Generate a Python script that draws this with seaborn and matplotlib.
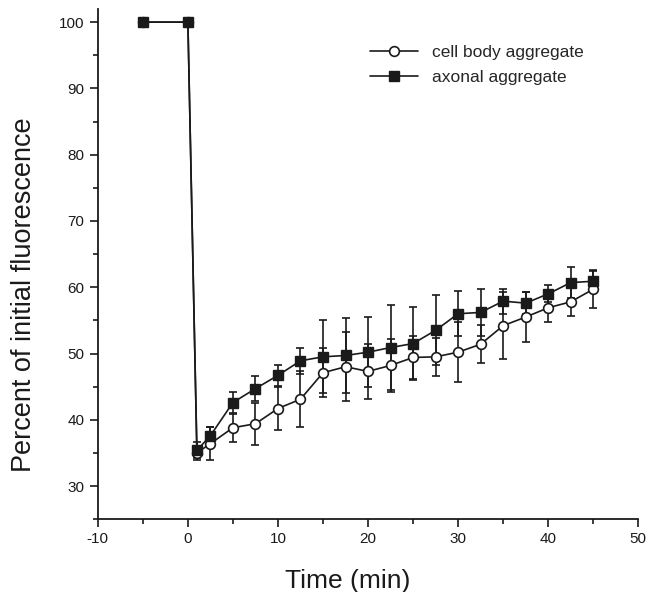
import matplotlib
matplotlib.use("Agg")
import matplotlib.pyplot as plt
from matplotlib.ticker import MultipleLocator
import numpy as np
import pandas as pd
import seaborn as sns

# Time points (min)
time_min = [-5, 0, 1, 2.5, 5, 7.5, 10, 12.5, 15, 17.5, 20, 22.5, 25,
            27.5, 30, 32.5, 35, 37.5, 40, 42.5, 45]

# Percent of initial fluorescence, mean and error
cell_body = [100, 100, 35.0, 36.4, 38.8, 39.4, 41.7, 43.1, 47.1, 48.0, 47.3,
             48.2, 49.4, 49.5, 50.2, 51.4, 54.2, 55.5, 56.9, 57.8, 59.7]
cell_body_err = [0, 0, 1.0, 2.5, 2.1, 3.2, 3.2, 4.2, 3.7, 5.2, 4.1,
                 4.0, 3.3, 2.9, 4.5, 2.9, 5.1, 3.8, 2.1, 2.2, 2.9]

axonal = [100, 100, 35.4, 37.6, 42.6, 44.7, 46.7, 48.9, 49.5, 49.7, 50.2,
          50.9, 51.5, 53.5, 56.0, 56.2, 57.9, 57.6, 59.0, 60.7, 60.9]
axonal_err = [0, 0, 1.2, 1.3, 1.6, 1.9, 1.6, 2.0, 5.5, 5.6, 5.3,
              6.4, 5.5, 5.3, 3.4, 3.5, 1.9, 1.7, 1.3, 2.3, 1.6]

labels = ["cell body aggregate", "axonal aggregate"]
x_ticks = [-10, 0, 10, 20, 30, 40, 50]
y_ticks = [30, 40, 50, 60, 70, 80, 90, 100]

sns.set_style("ticks")
plt.rcParams["font.family"] = ["Liberation Sans", "DejaVu Sans"]
plt.rcParams["axes.unicode_minus"] = False

fig = plt.figure(figsize=(6.52, 5.92), dpi=100)
ax = fig.add_axes([0.150, 0.123, 0.829, 0.862])

df = pd.DataFrame({"time": time_min, "cell": cell_body, "axon": axonal})

# Error bars behind the markers
ax.errorbar(time_min, cell_body, yerr=cell_body_err, fmt="none",
            ecolor="#1a1a1a", elinewidth=1.2, capsize=3.2, capthick=1.2, zorder=1)
ax.errorbar(time_min, axonal, yerr=axonal_err, fmt="none",
            ecolor="#1a1a1a", elinewidth=1.2, capsize=3.2, capthick=1.2, zorder=1)

sns.lineplot(data=df, x="time", y="cell", ax=ax, color="#1a1a1a", lw=1.2,
             marker="o", markersize=7, markerfacecolor="white",
             markeredgecolor="#1a1a1a", markeredgewidth=1.2,
             label=labels[0], zorder=3)
sns.lineplot(data=df, x="time", y="axon", ax=ax, color="#1a1a1a", lw=1.2,
             marker="s", markersize=6.5, markerfacecolor="#1a1a1a",
             markeredgecolor="#1a1a1a", markeredgewidth=1.0,
             label=labels[1], zorder=4)

ax.set_xlim(-10, 50)
ax.set_ylim(25, 102)
ax.set_xticks(x_ticks)
ax.set_yticks(y_ticks)
ax.xaxis.set_minor_locator(MultipleLocator(5))
ax.yaxis.set_minor_locator(MultipleLocator(5))
ax.tick_params(axis="both", which="major", direction="out", length=6,
               width=1.2, labelsize=11, colors="#1a1a1a")
ax.tick_params(axis="both", which="minor", direction="out", length=3.5,
               width=1.2, colors="#1a1a1a")

for side in ["left", "bottom"]:
    ax.spines[side].set_linewidth(1.3)
    ax.spines[side].set_color("#1a1a1a")
sns.despine(ax=ax)

ax.set_xlabel("Time (min)", fontsize=19, color="#1a1a1a")
ax.set_ylabel("Percent of initial fluorescence", fontsize=19.5, color="#1a1a1a")
ax.xaxis.set_label_coords(0.463, -0.098)
ax.yaxis.set_label_coords(-0.113, 0.44)

ax.legend(loc="upper right", bbox_to_anchor=(0.928, 0.96), frameon=False,
          fontsize=12.5, handlelength=2.8, labelspacing=0.55, handletextpad=0.8)

fig.savefig("out.png", dpi=100)
